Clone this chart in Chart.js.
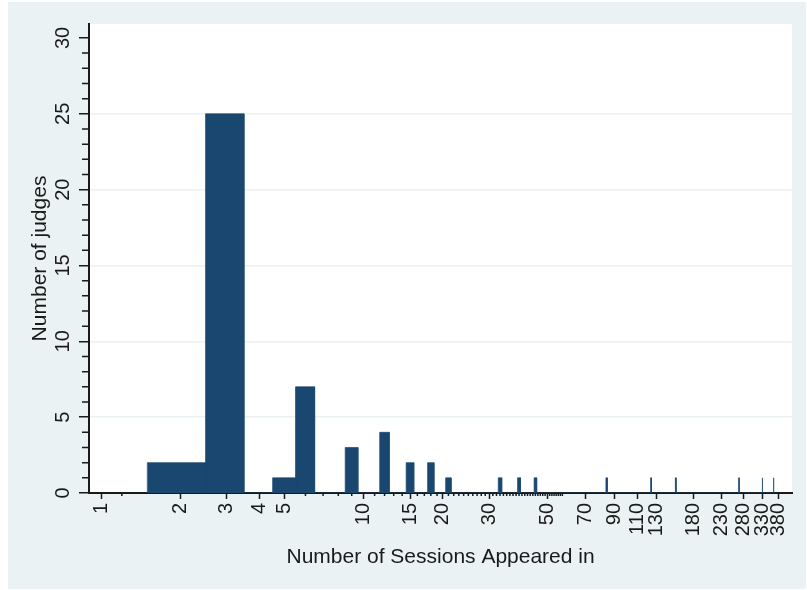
<!DOCTYPE html>
<html>
<head>
<meta charset="utf-8">
<script src="https://cdn.jsdelivr.net/npm/chart.js@4.4.1/dist/chart.umd.min.js"></script>
<style>
  html, body { margin: 0; padding: 0; background: #ffffff; }
  #wrap { position: relative; width: 807px; height: 590px; }
  #panel { position: absolute; left: 8px; top: 2px; width: 798px; height: 587px; background: #eaf2f3; }
  #c { position: absolute; left: 0; top: 0; }
</style>
</head>
<body>
<div id="wrap">
  <div id="panel"></div>
  <canvas id="c" width="807" height="590"></canvas>
</div>
<script>
// Number of sessions a judge appeared in, and how many judges share that count
const sessions = [2, 3, 5, 6, 9, 12, 15, 18, 21, 33, 39, 45, 84, 124, 154, 268, 329, 363];
const judges   = [2, 25, 1, 7, 3, 4, 2, 2, 1, 1, 1, 1, 1, 1, 1, 1, 1, 1];

// Axis labels
const xTickValues = [1, 2, 3, 4, 5, 10, 15, 20, 30, 50, 70, 90, 110, 130, 180, 230, 280, 330, 380];
const yTickValues = [0, 5, 10, 15, 20, 25, 30];

// Unlabelled minor ticks
const xMinorTicks = [1.2];
for (let v = 6; v <= 57; v++) if (!xTickValues.includes(v)) xMinorTicks.push(v);
const yMinorTicks = [];
for (let v = 1; v < 30; v++) if (v % 5 !== 0) yMinorTicks.push(v);

const NAVY = '#1a476f';
const INK = '#1a1a1a';
const TICK_FONT = { family: "'Liberation Sans', Arial, sans-serif", size: 20 };
const TITLE_FONT = { family: "'Liberation Sans', Arial, sans-serif", size: 21 };

// Each count becomes a bar one session wide, centred on its value
const outline = [];
sessions.forEach((s, i) => {
  const lo = s - 0.5, hi = s + 0.5;
  outline.push({ x: lo, y: 0 }, { x: lo, y: judges[i] }, { x: hi, y: judges[i] }, { x: hi, y: 0 });
});

const plotBackground = {
  id: 'plotBackground',
  beforeDraw(chart) {
    const { ctx, chartArea: a } = chart;
    ctx.save();
    ctx.fillStyle = '#ffffff';
    ctx.fillRect(a.left, a.top, a.right - a.left, a.bottom - a.top);
    ctx.restore();
  }
};

const minorTicks = {
  id: 'minorTicks',
  afterDraw(chart) {
    const { ctx, chartArea: a, scales: { x, y } } = chart;
    ctx.save();
    ctx.strokeStyle = INK;
    ctx.lineWidth = 1.5;
    ctx.beginPath();
    yMinorTicks.forEach(v => {
      const py = y.getPixelForValue(v);
      ctx.moveTo(a.left - 7, py);
      ctx.lineTo(a.left, py);
    });
    xMinorTicks.forEach(v => {
      const px = x.getPixelForValue(v);
      ctx.moveTo(px, a.bottom);
      ctx.lineTo(px, a.bottom + 3);
    });
    ctx.stroke();
    ctx.restore();
  }
};

new Chart(document.getElementById('c'), {
  type: 'line',
  data: {
    datasets: [{
      data: outline,
      borderColor: NAVY,
      backgroundColor: NAVY,
      borderWidth: 0.7,
      fill: 'origin',
      tension: 0,
      pointRadius: 0
    }]
  },
  options: {
    responsive: false,
    animation: false,
    devicePixelRatio: 1,
    layout: { padding: { top: 24, right: 9, left: 0, bottom: 0 } },
    plugins: { legend: { display: false }, tooltip: { enabled: false } },
    scales: {
      x: {
        type: 'logarithmic',
        min: 0.9,
        max: 427,
        bounds: 'data',
        z: 1,
        afterBuildTicks: s => { s.ticks = xTickValues.map(v => ({ value: v })); },
        afterFit: s => { s.height = 97; },
        grid: { drawOnChartArea: false, drawTicks: true, tickLength: 6, tickColor: INK, tickWidth: 1.5 },
        border: { display: true, color: INK, width: 2 },
        ticks: {
          autoSkip: false, minRotation: 90, maxRotation: 90, padding: 4,
          color: INK, font: TICK_FONT, callback: v => String(v)
        },
        title: {
          display: true, text: 'Number of Sessions Appeared in', color: INK, font: TITLE_FONT,
          padding: { top: 0, bottom: 20 }
        }
      },
      y: {
        type: 'linear',
        min: 0,
        max: 30.92,
        afterBuildTicks: s => { s.ticks = yTickValues.map(v => ({ value: v })); },
        afterFit: s => { s.width = 89; },
        grid: {
          color: c => (c.tick && (c.tick.value === 0 || c.tick.value === 30)) ? 'rgba(0,0,0,0)' : '#eaf2f3',
          lineWidth: 1.5, drawTicks: true, tickLength: 10, tickColor: INK, tickWidth: 1.5
        },
        border: { display: true, color: INK, width: 2 },
        ticks: {
          minRotation: 90, maxRotation: 90, crossAlign: 'center', padding: 4,
          color: INK, font: TICK_FONT, callback: v => String(v)
        },
        title: {
          display: true, text: 'Number of judges', color: INK, font: TITLE_FONT,
          padding: { top: 28, bottom: 0 }
        }
      }
    }
  },
  plugins: [plotBackground, minorTicks]
});
</script>
</body>
</html>
